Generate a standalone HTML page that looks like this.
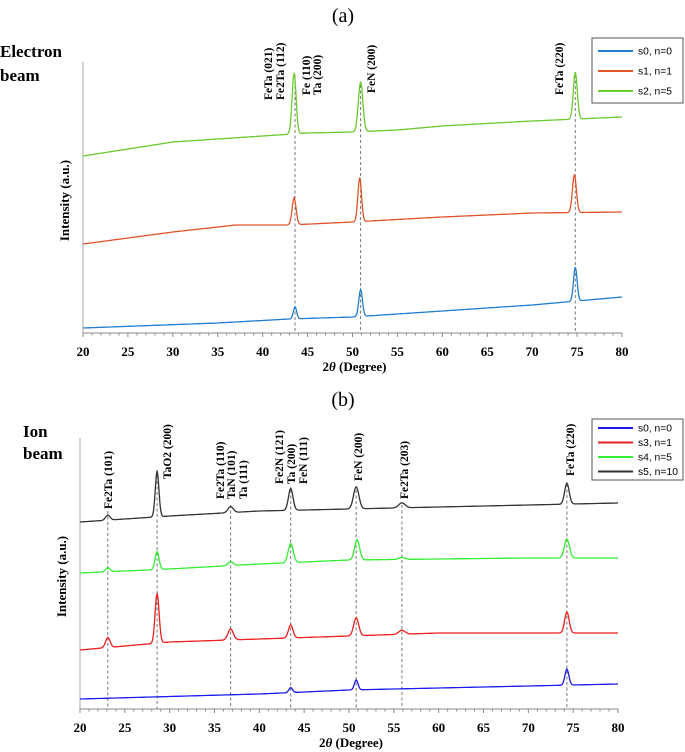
<!DOCTYPE html>
<html><head><meta charset="utf-8"><style>
body{margin:0;background:#fff}
svg{display:block}
.t{font-family:"Liberation Serif",serif}
.s{font-family:"Liberation Sans",sans-serif}
</style></head><body>
<svg id="svg" width="685" height="752" xmlns="http://www.w3.org/2000/svg">
<text class="t" x="343" y="22" font-size="20" text-anchor="middle">(a)</text>
<text class="t" x="0" y="57" font-size="17" font-weight="bold">Electron</text>
<text class="t" x="0" y="81" font-size="17" font-weight="bold">beam</text>
<text class="t" x="343" y="406" font-size="20" text-anchor="middle">(b)</text>
<text class="t" x="23" y="437" font-size="17" font-weight="bold">Ion</text>
<text class="t" x="23" y="459" font-size="17" font-weight="bold">beam</text>
</svg>
<script>
// ---- Panel (a) data (intensity in a.u. above axis) ----
const aBlueBase = [[20,5],[35,10],[43,14],[50,16],[60,22],[70,28],[80,36]];
const aBluePeaks = [[43.6,12,0.18],[50.9,27,0.2],[74.8,34,0.2]];
const aRedBase = [[20,89],[30,101],[37,108],[43,108],[50,111],[60,116],[70,120],[80,121]];
const aRedPeaks = [[43.5,27,0.22],[50.8,44,0.2],[74.7,38,0.22]];
const aGreenBase = [[20,177],[30,191],[40,197],[45,200],[50,201],[55,203],[60,207],[70,212],[80,216]];
const aGreenPeaks = [[43.5,61,0.22],[50.9,50,0.25],[74.8,47,0.22]];
const aRefs = [[43.6,75],[50.9,85],[74.8,75]];
const aLabels = [["FeTa (021)",268,100],["Fe2Ta (112)",280,100],["Fe (110)",306,95],["Ta (200)",317,95],["FeN (200)",371,93],["FeTa (220)",559,95]];
const aLegend = ["s0, n=0","s1, n=1","s2, n=5"];
// ---- Panel (b) data ----
const bBlueBase = [[20,10],[40,15],[50,19],[60,21],[70,23],[80,25]];
const bBluePeaks = [[43.5,5,0.2],[50.8,10,0.2],[74.3,16,0.22]];
const bRedBase = [[20,59],[30,67],[40,70],[50,73],[60,76],[70,76],[80,76]];
const bRedPeaks = [[23.1,10,0.25],[28.6,50,0.22],[36.8,11,0.3],[43.5,13,0.25],[50.8,18,0.28],[55.9,4,0.35],[74.3,21,0.25]];
const bGreenBase = [[20,136],[30,140],[40,145],[50,149],[60,150],[70,151],[80,151]];
const bGreenPeaks = [[23.1,4,0.25],[28.6,18,0.22],[36.8,4,0.3],[43.5,19,0.28],[50.9,20,0.28],[55.9,2,0.35],[74.3,19,0.28]];
const bBlackBase = [[20,187],[30,193],[40,198],[50,200],[60,202],[70,204],[80,206]];
const bBlackPeaks = [[23.1,5,0.25],[28.6,46,0.2],[36.8,6,0.3],[43.5,22,0.25],[50.8,22,0.3],[55.9,5,0.35],[74.3,21,0.25]];
const bRefs = [[23.1,511],[28.6,470],[36.8,505],[43.5,490],[50.8,490],[55.9,505],[74.3,484]];
const bLabels = [["Fe2Ta (101)",108,509],["TaO2 (200)",167,479],["Fe2Ta (110)",220,499],["TaN (101)",231,499],["Ta (111)",243,499],["Fe2N (121)",279,484],["Ta (200)",291,484],["FeN (111)",303,484],["FeN (200)",358,481],["Fe2Ta (203)",404,499],["FeTa (220)",570,476]];
const bLegend = ["s0, n=0","s3, n=1","s4, n=5","s5, n=10"];
const xTicks = [20,25,30,35,40,45,50,55,60,65,70,75,80];

const NS="http://www.w3.org/2000/svg";
const svg=document.getElementById('svg');
function mk(tag,attrs){const e=document.createElementNS(NS,tag);for(const k in attrs)e.setAttribute(k,attrs[k]);svg.appendChild(e);return e;}
function interp(base,x){for(let i=0;i<base.length-1;i++){if(x<=base[i+1][0]){const t=(x-base[i][0])/(base[i+1][0]-base[i][0]);return base[i][1]+t*(base[i+1][1]-base[i][1]);}}return base[base.length-1][1];}

function panel(P){
  const xs=v=>P.x0+(v-20)*(P.x1-P.x0)/60;
  const ys=v=>P.axisY-v;
  let e=mk('line',{x1:P.x0,y1:P.top,x2:P.x0,y2:P.axisY,stroke:'#aaa','stroke-width':1});
  
  
  e=mk('line',{x1:P.x0,y1:P.axisY,x2:P.x1,y2:P.axisY,stroke:'#888','stroke-width':1});
  
  
  for(let v=20;v<=80;v++){
    e=mk('line',{x1:xs(v),y1:P.axisY,x2:xs(v),y2:P.axisY+(v%5?2.5:4),stroke:'#888','stroke-width':1});
    
    
  }
  xTicks.forEach(v=>{
    e=mk('text',{x:xs(v),y:P.axisY+23,'font-size':13,'font-weight':'bold','text-anchor':'middle',class:'t'});
    e.textContent=v;
    
    
  });
  e=mk('text',{x:(P.x0+P.x1)/2+2,y:P.axisY+38,'font-size':13,'font-weight':'bold','text-anchor':'middle',class:'t'});
  e.innerHTML='2<tspan font-style="italic">θ</tspan> (Degree)';
  
  
  const cy=(P.top+P.axisY)/2+3;
  e=mk('text',{x:0,y:0,'font-size':13,'font-weight':'bold','text-anchor':'middle',class:'t',transform:`translate(${P.x0-14},${cy}) rotate(-90)`});
  e.textContent='Intensity (a.u.)';
  
  
  P.refs.forEach(r=>{
    e=mk('line',{x1:xs(r[0]),y1:r[1],x2:xs(r[0]),y2:P.axisY,stroke:'#777','stroke-width':1,'stroke-dasharray':'3,2.5'});
    
    
  });
  P.series.forEach(s=>{
    let d='';
    for(let v=20;v<=80.0001;v+=0.1){
      let y=interp(s.base,v);
      s.peaks.forEach(p=>{y+=p[1]*Math.exp(-((v-p[0])**2)/(2*p[2]*p[2]));});
      d+=(d?'L':'M')+xs(v).toFixed(1)+','+ys(y).toFixed(1);
    }
    e=mk('path',{d:d,fill:'none',stroke:s.color,'stroke-width':1.3});
    
    
  });
  P.labels.forEach(l=>{
    e=mk('text',{x:0,y:0,'font-size':11.5,'font-weight':'bold',class:'t',transform:`translate(${l[1]+4},${l[2]}) rotate(-90)`});
    e.textContent=l[0];
    
    
  });
  e=mk('rect',{x:592,y:P.legY,width:91,height:P.legH,fill:'#fff',stroke:'#555','stroke-width':1});
  
  
  P.legend.forEach((t,i)=>{
    const y=P.legY+P.legY0+i*P.legStep;
    e=mk('line',{x1:598,y1:y,x2:633,y2:y,stroke:P.series[i].color,'stroke-width':2});
    
    
    e=mk('text',{x:638,y:y+3.5,'font-size':10,class:'s',textLength:t.length>7?40:34,lengthAdjust:'spacingAndGlyphs'});
    e.textContent=t;
    
    
  });
}
panel({id:'panel-a',x0:83,x1:622,axisY:333,top:62,refs:aRefs,labels:aLabels,legend:aLegend,legY:38,legH:65,legY0:13,legStep:20,
  series:[{name:'a-s0-line',color:'#1f7fce',base:aBlueBase,peaks:aBluePeaks},{name:'a-s1-line',color:'#e2532b',base:aRedBase,peaks:aRedPeaks},{name:'a-s2-line',color:'#6acb2e',base:aGreenBase,peaks:aGreenPeaks}]});
panel({id:'panel-b',x0:80,x1:618,axisY:709,top:438,refs:bRefs,labels:bLabels,legend:bLegend,legY:419,legH:61,legY0:9,legStep:14.5,
  series:[{name:'b-s0-line',color:'#1a1aee',base:bBlueBase,peaks:bBluePeaks},{name:'b-s3-line',color:'#ee1f1f',base:bRedBase,peaks:bRedPeaks},{name:'b-s4-line',color:'#33ee33',base:bGreenBase,peaks:bGreenPeaks},{name:'b-s5-line',color:'#333333',base:bBlackBase,peaks:bBlackPeaks}]});
</script>
</body></html>
